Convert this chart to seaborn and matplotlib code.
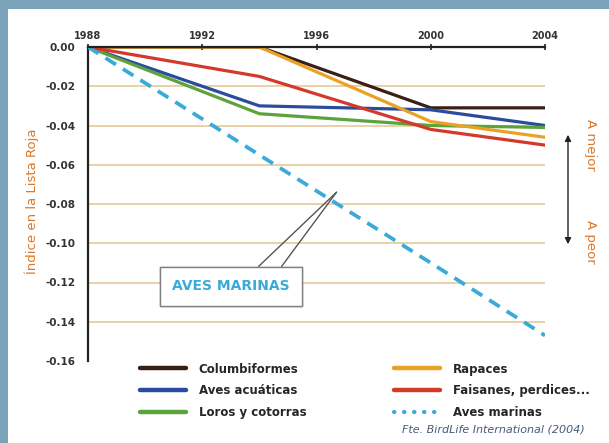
import matplotlib
matplotlib.use("Agg")
import matplotlib.pyplot as plt
from matplotlib.lines import Line2D
from matplotlib.patches import Rectangle, FancyArrowPatch
import seaborn as sns

# data
years = [1988, 1994, 2000, 2004]
columbiformes = [0.0, 0.0, -0.031, -0.031]
aves_acuaticas = [0.0, -0.030, -0.032, -0.040]
loros = [0.0, -0.034, -0.040, -0.041]
rapaces = [0.0, 0.0, -0.038, -0.046]
faisanes = [0.0, -0.015, -0.042, -0.050]
aves_marinas = [0.0, -0.055, -0.110, -0.147]

x_ticks = [1988, 1992, 1996, 2000, 2004]
y_ticks = [0.00, -0.02, -0.04, -0.06, -0.08, -0.10, -0.12, -0.14, -0.16]

series = [
    ("Columbiformes", columbiformes, "#3a1f14"),
    ("Aves acuáticas", aves_acuaticas, "#2b4c9c"),
    ("Loros y cotorras", loros, "#5ca33c"),
    ("Rapaces", rapaces, "#e9a224"),
    ("Faisanes, perdices...", faisanes, "#d43a2c"),
]
marinas_color = "#3aabd9"
label_orange = "#d9782c"

sns.set_style("white")
plt.rcParams["font.family"] = ["DejaVu Sans"]

fig = plt.figure(figsize=(6.09, 4.43), dpi=100)
fig.patch.set_facecolor("#7aa3ba")
fig.add_artist(Rectangle((8 / 609, 0), 1, 1 - 9 / 443, transform=fig.transFigure,
                         facecolor="white", edgecolor="none", zorder=-5))

ax = fig.add_axes([88 / 609, 1 - 361 / 443, (545 - 88) / 609, (361 - 47) / 443])
ax.set_facecolor("none")
ax.set_zorder(2)

handles = []
for name, vals, col in series:
    sns.lineplot(x=years, y=vals, color=col, linewidth=2.3, ax=ax, zorder=3)
    handles.append(Line2D([], [], color=col, linewidth=3.2, label=name))

sns.lineplot(x=years, y=aves_marinas, color=marinas_color, linewidth=2.7, ax=ax, zorder=3)
ax.lines[-1].set_dashes([3.3, 2.2])
handles.append(Line2D([], [], color=marinas_color, linewidth=3, linestyle=(0, (0.1, 2.3)),
                      dash_capstyle="round", label="Aves marinas"))

ax.set_xlim(1988, 2004)
ax.set_ylim(-0.16, 0.0)
ax.set_xticks(x_ticks)
ax.set_yticks(y_ticks)
ax.set_yticklabels([f"{v:.2f}" for v in y_ticks])
ax.xaxis.tick_top()
ax.tick_params(axis="x", direction="inout", length=5, width=1.2, pad=2,
               labelsize=7, labelcolor="#333333")
ax.tick_params(axis="y", direction="out", length=5, width=1.5, pad=4,
               labelsize=7.5, labelcolor="#333333")
for lab in ax.get_xticklabels() + ax.get_yticklabels():
    lab.set_fontweight("bold")

for s in ["right", "bottom"]:
    ax.spines[s].set_visible(False)
for s in ["left", "top"]:
    ax.spines[s].set_color("#222222")
    ax.spines[s].set_linewidth(1.6)
ax.spines["top"].set_zorder(4)

ax.yaxis.grid(True, color="#e6c898", linewidth=1.2, zorder=1)
ax.set_axisbelow(True)
ax.yaxis.get_major_ticks()[-1].gridline.set_visible(False)

ax.set_ylabel("Índice en la Lista Roja", color=label_orange, fontsize=9.5)
ax.yaxis.set_label_coords(-0.108, 0.51)

# callout box with two pointer lines
for rp in [(0.62, 1.0), (0.85, 1.0)]:
    ax.annotate("AVES MARINAS", xy=(1996.7, -0.074), xytext=(1993.0, -0.122),
                ha="center", va="center", fontsize=10, fontweight="bold",
                color=marinas_color,
                bbox=dict(boxstyle="square,pad=0.9", fc="white", ec="#808080", lw=1),
                arrowprops=dict(arrowstyle="-", color="#555555", lw=1.0, relpos=rp,
                                shrinkA=0, shrinkB=0),
                zorder=5)

# side arrow and labels
fig.add_artist(FancyArrowPatch((568 / 609, 1 - 132 / 443), (568 / 609, 1 - 247 / 443),
                               transform=fig.transFigure, arrowstyle="<|-|>",
                               mutation_scale=9, color="#222222", lw=1))
fig.text(590 / 609, 1 - 145 / 443, "A mejor", rotation=270, ha="center", va="center",
         color=label_orange, fontsize=9.5)
fig.text(590 / 609, 1 - 242 / 443, "A peor", rotation=270, ha="center", va="center",
         color=label_orange, fontsize=9.5)

fig.legend(handles=handles, ncol=2, loc="upper left",
           bbox_to_anchor=(129 / 609, 1 - 352 / 443), frameon=False,
           prop={"size": 8.5, "weight": "bold"}, handlelength=3.9, handletextpad=1.1,
           columnspacing=7.4, labelspacing=0.75)

fig.text(585 / 609, 1 - 430 / 443, "Fte. BirdLife International (2004)", ha="right",
         va="center", fontsize=8.0, style="italic", color="#4a5a7a")

fig.savefig("out.png", dpi=100, facecolor=fig.get_facecolor())
